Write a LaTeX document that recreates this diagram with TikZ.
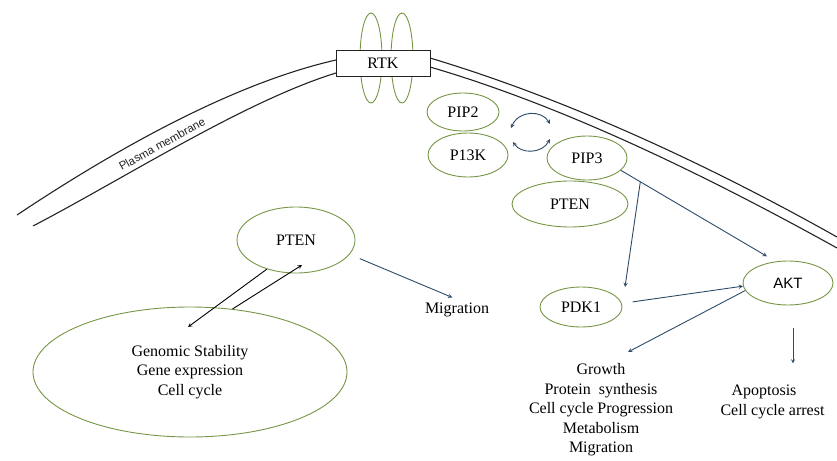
\documentclass[tikz,border=0pt]{standalone}
\usepackage{fontspec}
\setmainfont{Liberation Serif}
\setsansfont{Liberation Sans}
\usetikzlibrary{arrows,shapes.geometric}
\definecolor{blobgreen}{RGB}{118,150,70}
\definecolor{arrowblue}{RGB}{45,75,105}
\definecolor{memgray}{RGB}{35,35,35}

\begin{document}
\begin{tikzpicture}
  [
    >=stealth,
    x=1pt,y=-1pt,
    every node/.style={font=\fontsize{16}{19.5}\selectfont},
    blob/.style={ellipse,draw=blobgreen,line width=0.9pt,inner sep=0pt},
    membrane/.style={draw=memgray,line width=1.1pt},
    signal/.style={->,draw=arrowblue,line width=0.9pt},
  ]
  \useasboundingbox (0,0) rectangle (837,460);
  % plasma membrane
  \draw [membrane] (17,215) .. controls (110,153) and (230,84) .. (336,60);
  \draw [membrane] (33,226) .. controls (125,178) and (245,101) .. (336,73);
  \draw [membrane] (430,58) .. controls (560,97) and (700,160) .. (837,237);
  \draw [membrane] (430,67) .. controls (560,105) and (700,172) .. (837,248);
  \node [font=\sffamily\fontsize{11.5}{14}\selectfont,text=memgray,rotate=29,inner sep=0pt] (pm) at (162,144) {Plasma membrane};

  % receptor
  \node [blob,minimum width=22pt,minimum height=90pt] (rtkl) at (371,58) {};
  \node [blob,minimum width=22pt,minimum height=90pt] (rtkr) at (402,58) {};
  \node [draw=memgray,fill=white,line width=0.9pt,minimum width=94pt,minimum height=26pt,inner sep=0pt] (rtk) at (383,63) {RTK};

  % inside the cell
  \node [blob,minimum width=72pt,minimum height=38pt] (pip2) at (463,112) {PIP2};
  \node [blob,minimum width=80pt,minimum height=44pt] (p13k) at (468,155) {P13K};
  \node [blob,minimum width=80pt,minimum height=44pt] (pip3) at (587,158) {PIP3};
  \node [blob,minimum width=116pt,minimum height=46pt] (ptenr) at (570,204) {PTEN};
  \node [blob,minimum width=82pt,minimum height=40pt] (pdk1) at (581,307) {PDK1};
  \node [blob,minimum width=90pt,minimum height=44pt,font=\sffamily\fontsize{15}{18}\selectfont] (akt) at (788,283) {AKT};
  \node [blob,minimum width=118pt,minimum height=66pt] (ptenl) at (296,240) {PTEN};
  \node [blob,minimum width=314pt,minimum height=130pt,align=center] (big) at (190,372) {Genomic Stability\\Gene expression\\Cell cycle};

  \node (migration) at (457,310) {Migration};
  \node [align=center] (growth) at (601,410) {Growth\\Protein~ synthesis\\Cell cycle Progression\\Metabolism\\Migration};
  \node [align=left,anchor=west] (apop) at (717,402) {\hspace*{11pt}Apoptosis\\Cell cycle arrest};

  \coordinate (gentip) at (188,327);
  \coordinate (ptentip) at (302,265);
  \coordinate (pdktip) at (625,287);
  \coordinate (growtip) at (628,352);

  % PIP2 <-> PIP3 cycle
  \draw [signal,<->] (511,128) .. controls (519,110) and (542,110) .. (550,124);
  \draw [signal,<->] (513,142) .. controls (521,154) and (542,154) .. (550,139);

  % arrows
  \draw [signal,shorten >=10pt] (pip3.-20) -- coordinate[pos=0.126] (fork) (akt.120);
  \draw [signal] (fork) -- (pdktip);
  \draw [signal,shorten <=11pt] (pdk1.5) -- (akt.184);
  \draw [signal] (akt.190) -- (growtip);
  \draw [signal] ([xshift=5pt,yshift=-23pt]akt.south) -- ([xshift=5pt,yshift=-58pt]akt.south);
  \draw [signal,shorten <=11pt,shorten >=5pt] (ptenl.-15) -- (migration.north);
  \draw [->,line width=0.9pt] (ptenl.225) -- (gentip);
  \draw [->,line width=0.9pt] (big.56) -- (ptentip);

\end{tikzpicture}
\end{document}
